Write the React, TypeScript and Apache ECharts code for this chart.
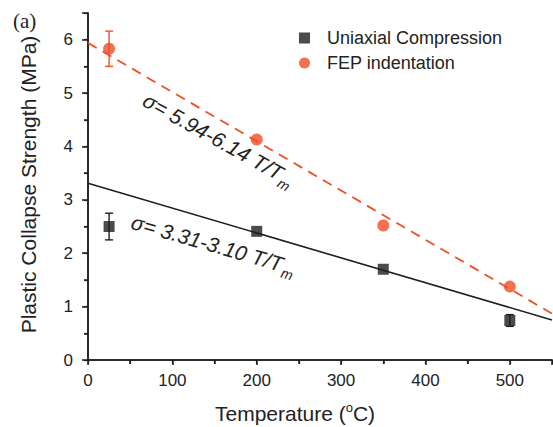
import React, { useEffect, useRef } from 'react';
import * as echarts from 'echarts';

const temperatures = [25, 200, 350, 500];
const uniaxialStrength = [2.5, 2.41, 1.7, 0.74];
const uniaxialError = [0.25, 0, 0, 0.11];
const fepStrength = [5.83, 4.13, 2.52, 1.375];
const fepError = [0.33, 0, 0, 0];
const fitTemperatures = [0, 550];
const uniaxialFit = [3.31, 0.75];
const fepFit = [5.94, 0.87];
const seriesNames = ['Uniaxial Compression', 'FEP indentation'];
const fepLabelAnchor = [67, 4.9];
const uniLabelAnchor = [52, 2.6];

const BLACK = '#1e1e1e';
const RED = '#f04e23';
const FONT = 'Liberation Sans, Arial, Helvetica, sans-serif';

export default function App() {
  const ref = useRef<HTMLDivElement>(null);
  useEffect(() => {
    if (!ref.current) return;
    const chart = echarts.init(ref.current, undefined, { renderer: 'svg' });
    const errRender = (color: string) => (params: any, api: any) => {
      const x = api.value(0);
      const y = api.value(1);
      const e = api.value(2);
      if (!e) return { type: 'group', children: [] };
      const top = api.coord([x, y + e]);
      const bot = api.coord([x, y - e]);
      const hw = 4;
      const st = { stroke: color, lineWidth: 1.4 };
      return {
        type: 'group',
        children: [
          { type: 'line', shape: { x1: top[0], y1: top[1], x2: bot[0], y2: bot[1] }, style: st },
          { type: 'line', shape: { x1: top[0] - hw, y1: top[1], x2: top[0] + hw, y2: top[1] }, style: st },
          { type: 'line', shape: { x1: bot[0] - hw, y1: bot[1], x2: bot[0] + hw, y2: bot[1] }, style: st },
        ],
      };
    };
    const axisLine = { show: true, lineStyle: { color: BLACK, width: 1.5 } };
    chart.setOption({
      animation: false,
      backgroundColor: '#ffffff',
      grid: { left: 88, right: 1, top: 13, bottom: 67, containLabel: false, outerBoundsMode: 'none' },
      legend: {
        orient: 'vertical',
        left: 294,
        top: 24,
        itemWidth: 11,
        itemHeight: 11,
        itemGap: 7,
        data: [
          { name: seriesNames[0], icon: 'rect' },
          { name: seriesNames[1], icon: 'circle' },
        ],
        textStyle: { fontSize: 18, color: '#222', fontFamily: FONT, padding: [0, 0, 0, 12] },
      },
      xAxis: [
        {
          type: 'value',
          min: 0,
          max: 550,
          interval: 100,
          position: 'bottom',
          axisLine,
          splitLine: { show: false },
          axisTick: { show: true, inside: false, length: 5, lineStyle: { color: BLACK, width: 1.5 } },
          minorTick: { show: true, splitNumber: 2, length: 4, lineStyle: { color: BLACK, width: 1.5 } },
          axisLabel: { fontSize: 17, color: '#222', fontFamily: FONT, margin: 12, showMaxLabel: false },
          name: 'Temperature ({sup|o}C)',
          nameLocation: 'middle',
          nameGap: 41,
          nameTextStyle: {
            fontSize: 21,
            color: '#222',
            fontFamily: FONT,
            padding: [0, 50, 0, 0],
            rich: { sup: { fontSize: 13, fontFamily: FONT, color: '#222', padding: [0, 0, 12, 0] } },
          },
        },
        {
          type: 'value',
          min: 0,
          max: 550,
          interval: 50,
          position: 'top',
          axisLine,
          splitLine: { show: false },
          axisTick: { show: true, inside: true, length: 4, lineStyle: { color: BLACK, width: 1.2 } },
          axisLabel: { show: false },
        },
      ],
      yAxis: [
        {
          type: 'value',
          min: 0,
          max: 6.5,
          interval: 1,
          position: 'left',
          axisLine,
          splitLine: { show: false },
          axisTick: { show: true, inside: false, length: 6, lineStyle: { color: BLACK, width: 1.5 } },
          minorTick: { show: true, splitNumber: 2, length: 4, lineStyle: { color: BLACK, width: 1.5 } },
          axisLabel: { fontSize: 17, color: '#222', fontFamily: FONT, margin: 15, showMaxLabel: false },
          name: 'Plastic Collapse Strength (MPa)',
          nameLocation: 'middle',
          nameGap: 49,
          nameTextStyle: { fontSize: 21, color: '#222', fontFamily: FONT, padding: [0, 0, 0, 4] },
        },
        {
          type: 'value',
          min: 0,
          max: 6.5,
          interval: 0.5,
          position: 'right',
          axisLine,
          splitLine: { show: false },
          axisTick: { show: true, inside: true, length: 4, lineStyle: { color: BLACK, width: 1.2 } },
          axisLabel: { show: false },
        },
      ],
      series: [
        {
          name: 'uniFit',
          type: 'line',
          data: fitTemperatures.map((t, i) => [t, uniaxialFit[i]]),
          showSymbol: false,
          symbol: 'none',
          lineStyle: { color: BLACK, width: 1.6 },
          z: 2,
          silent: true,
        },
        {
          name: 'fepFit',
          type: 'line',
          data: fitTemperatures.map((t, i) => [t, fepFit[i]]),
          showSymbol: false,
          symbol: 'none',
          lineStyle: { color: RED, width: 1.8, type: [10, 7] },
          z: 2,
          silent: true,
        },
        {
          name: 'uniErr',
          type: 'custom',
          renderItem: errRender(BLACK),
          data: temperatures.map((t, i) => [t, uniaxialStrength[i], uniaxialError[i]]),
          encode: { x: 0, y: 1 },
          z: 3,
        },
        {
          name: 'fepErr',
          type: 'custom',
          renderItem: errRender(RED),
          data: temperatures.map((t, i) => [t, fepStrength[i], fepError[i]]),
          encode: { x: 0, y: 1 },
          z: 3,
        },
        {
          name: seriesNames[0],
          type: 'scatter',
          symbol: 'rect',
          symbolSize: 11,
          itemStyle: { color: BLACK },
          data: temperatures.map((t, i) => [t, uniaxialStrength[i]]),
          z: 5,
        },
        {
          name: seriesNames[1],
          type: 'scatter',
          symbol: 'circle',
          symbolSize: 12,
          itemStyle: { color: RED },
          data: temperatures.map((t, i) => [t, fepStrength[i]]),
          z: 5,
        },
      ],
    });

    const p1 = chart.convertToPixel({ gridIndex: 0 }, fepLabelAnchor) as number[];
    const p2 = chart.convertToPixel({ gridIndex: 0 }, uniLabelAnchor) as number[];
    const annStyle = (text: string) => ({
      text,
      fill: '#222',
      fontSize: 21,
      fontStyle: 'italic',
      fontFamily: FONT,
      textAlign: 'left',
      textVerticalAlign: 'middle',
      rich: {
        sub: { fontSize: 14, fontStyle: 'italic', fontFamily: FONT, fill: '#222', color: '#222', padding: [16, 0, 0, 1] },
      },
    });
    chart.setOption({
      graphic: [
        {
          type: 'text',
          x: p1[0],
          y: p1[1],
          rotation: (-29 * Math.PI) / 180,
          style: annStyle('σ= 5.94-6.14 T/T{sub|m}'),
          z: 10,
        },
        {
          type: 'text',
          x: p2[0],
          y: p2[1],
          rotation: (-16 * Math.PI) / 180,
          style: annStyle('σ= 3.31-3.10 T/T{sub|m}'),
          z: 10,
        },
        {
          type: 'text',
          left: 13,
          top: 10,
          style: { text: '(a)', fill: '#222', fontSize: 21, fontFamily: 'Liberation Serif, Times New Roman, serif' },
        },
      ],
    });
    return () => chart.dispose();
  }, []);
  return (
    <div
      ref={ref}
      style={{ position: 'fixed', left: 0, top: 0, width: 553, height: 427, background: '#fff' }}
    />
  );
}
